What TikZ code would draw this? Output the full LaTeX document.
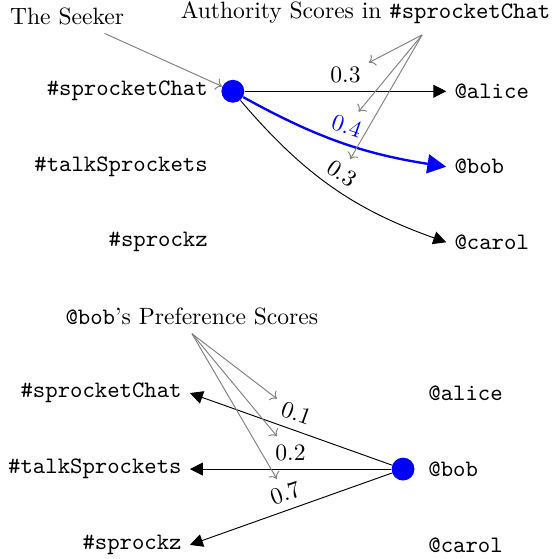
\documentclass[tikz,border=0pt]{standalone}
\usetikzlibrary{arrows.meta, positioning}

\begin{document}
\begin{tikzpicture}[
        chan/.style={font=\ttfamily, anchor=east},
        usr/.style={font=\ttfamily, anchor=west},
        seeker/.style={circle, fill=blue, inner sep=0pt, minimum size=9.7pt},
        score/.style={-{Triangle[length=5.5pt,width=5.5pt]}},
        hot/.style={blue, line width=1pt, -{Triangle[length=8pt,width=8pt]}},
        note/.style={gray, ->}
    ]
        \useasboundingbox (0,0) rectangle (8.33,-8.33);

        % authority scores
        \node[chan] (t_chat) at (3.22,-1.36) {\#sprocketChat};
        \node[chan] (t_talk) at (3.22,-2.485) {\#talkSprockets};
        \node[chan] (t_zz) at (3.22,-3.61) {\#sprockz};
        \node[seeker] (s) at (3.47,-1.36) {};
        \node[usr] (t_alice) at (6.65,-1.36) {@alice};
        \node[usr] (t_bob) at (6.65,-2.485) {@bob};
        \node[usr] (t_carol) at (6.65,-3.61) {@carol};
        \path
                (s) edge [score] node [above] (a_1) {0.3} (t_alice.west)
                    edge [hot, bend right=10] node [above, sloped] (a_2) {0.4} (t_bob.west)
                    edge [score, bend right=15] node [above, sloped] (a_3) {0.3} (t_carol.west);

        \node (seek_lbl) at (1.0,-0.246) {The Seeker};
        \node[anchor=base west] (auth_lbl) at (2.57,-0.276) {Authority Scores in \texttt{\#sprocketChat}};
        \coordinate (auth_foot) at (6.29,-0.52);
        \draw[note] (seek_lbl) -- (s);
        \draw[note] (auth_foot) -- (a_1);
        \draw[note] (auth_foot) -- (a_2);
        \draw[note] (auth_foot) -- (a_3);

        % preference scores
        \node[chan] (b_chat) at (2.83,-5.857) {\#sprocketChat};
        \node[chan] (b_talk) at (2.83,-6.99) {\#talkSprockets};
        \node[chan] (b_zz) at (2.83,-8.12) {\#sprockz};
        \node[seeker] (p) at (6.006,-6.99) {};
        \node[usr] (b_alice) at (6.26,-5.857) {@alice};
        \node[usr] (b_bob) at (6.26,-6.99) {@bob};
        \node[usr] (b_carol) at (6.26,-8.12) {@carol};
        \path
                (p) edge [score] node [above, sloped] (p_1) {0.1} (b_chat.east)
                    edge [score] node [above] (p_2) {0.2} (b_talk.east)
                    edge [score] node [above, sloped] (p_3) {0.7} (b_zz.east);

        \node[anchor=base] (pref_lbl) at (2.86,-4.84) {\texttt{@bob}'s Preference Scores};
        \draw[note] (pref_lbl.south) -- (p_1);
        \draw[note] (pref_lbl.south) -- (p_2);
        \draw[note] (pref_lbl.south) -- (p_3);
\end{tikzpicture}
\end{document}
